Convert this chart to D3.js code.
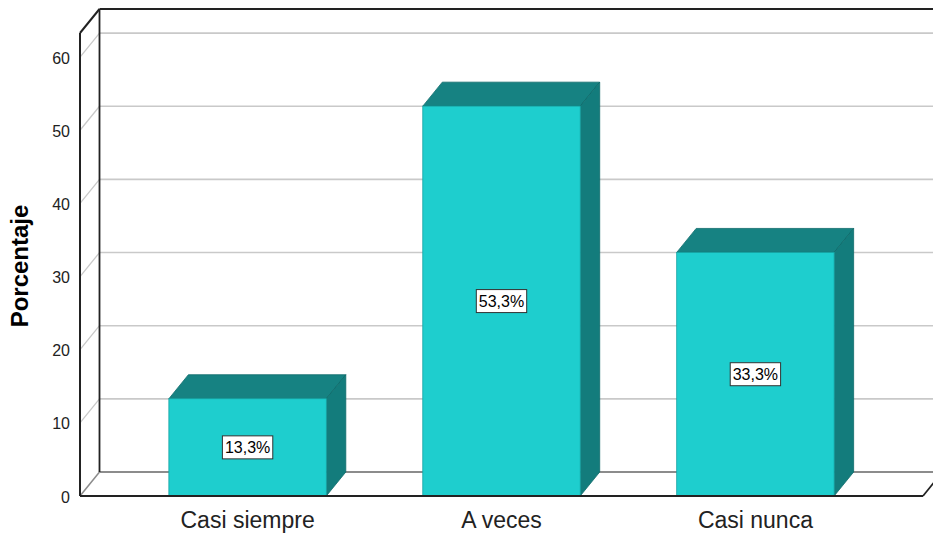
<!DOCTYPE html>
<html>
<head>
<meta charset="utf-8">
<script src="https://cdn.jsdelivr.net/npm/d3@7"></script>
<style>
  html, body { margin: 0; padding: 0; background: #ffffff; }
  svg { display: block; font-family: "Liberation Sans", Arial, sans-serif; }
</style>
</head>
<body>
<svg id="chart" width="933" height="533"></svg>
<script>
// Data
const categories = ["Casi siempre", "A veces", "Casi nunca"];
const percentages = [13.3, 53.3, 33.3];
const valueLabels = ["13,3%", "53,3%", "33,3%"];
const yTicks = [0, 10, 20, 30, 40, 50, 60];
const yAxisTitle = "Porcentaje";

const FONT = "'Liberation Sans', Arial, sans-serif";
const svg = d3.select("#chart");

// Front plane geometry and the 3D depth offset
const yMax = 63.3;
const y = d3.scaleLinear().domain([0, yMax]).range([496, 33]);
const x = d3.scaleBand().domain(categories).range([80, 923])
  .paddingInner(0.38).paddingOuter(0.35);
const dx = 19.5, dy = -24;
const x0 = 80, x1 = 923, xEnd = 933;

const frame = svg.append("g");

// Gridlines on the back wall and the left side wall
yTicks.filter(t => t > 0).forEach(t => {
  frame.append("line")
    .attr("x1", x0 + dx).attr("x2", xEnd)
    .attr("y1", y(t) + dy).attr("y2", y(t) + dy)
    .attr("stroke", "#c9c9c9").attr("stroke-width", 1.6);
  frame.append("line")
    .attr("x1", x0).attr("y1", y(t))
    .attr("x2", x0 + dx).attr("y2", y(t) + dy)
    .attr("stroke", "#c9c9c9").attr("stroke-width", 1.3);
});

// Floor: back edge and left diagonal
frame.append("line")
  .attr("x1", x0 + dx).attr("x2", xEnd)
  .attr("y1", y(0) + dy).attr("y2", y(0) + dy)
  .attr("stroke", "#8c8c8c").attr("stroke-width", 2);
frame.append("line")
  .attr("x1", x0).attr("y1", y(0))
  .attr("x2", x0 + dx).attr("y2", y(0) + dy)
  .attr("stroke", "#8c8c8c").attr("stroke-width", 1.5);

// Back wall left edge and top edge
frame.append("line")
  .attr("x1", x0 + dx).attr("x2", x0 + dx)
  .attr("y1", y(yMax) + dy).attr("y2", y(0) + dy)
  .attr("stroke", "#222").attr("stroke-width", 1.8);
frame.append("line")
  .attr("x1", x0 + dx).attr("x2", xEnd)
  .attr("y1", y(yMax) + dy).attr("y2", y(yMax) + dy)
  .attr("stroke", "#222").attr("stroke-width", 2);

// Bars
const frontFill = "#1ecece", topFill = "#168282", sideFill = "#137c7c", edgeColor = "#0e6b6b";
const bars = svg.append("g").selectAll("g").data(categories).join("g");
bars.each(function (c, i) {
  const g = d3.select(this);
  const bx = x(c), bw = x.bandwidth();
  const yt = y(percentages[i]), yb = y(0);
  // top face
  g.append("polygon")
    .attr("points", [[bx, yt], [bx + dx, yt + dy], [bx + bw + dx, yt + dy], [bx + bw, yt]].join(" "))
    .attr("fill", topFill).attr("stroke", edgeColor).attr("stroke-width", 0.8);
  // right side face
  g.append("polygon")
    .attr("points", [[bx + bw, yt], [bx + bw + dx, yt + dy], [bx + bw + dx, yb + dy], [bx + bw, yb]].join(" "))
    .attr("fill", sideFill).attr("stroke", edgeColor).attr("stroke-width", 0.8);
  // front face
  g.append("rect")
    .attr("x", bx).attr("y", yt).attr("width", bw).attr("height", yb - yt)
    .attr("fill", frontFill).attr("stroke", "#15a3a3").attr("stroke-width", 0.8);
});

// Front axis lines drawn over the bar bases
svg.append("line")
  .attr("x1", x0).attr("x2", x0).attr("y1", y(yMax)).attr("y2", y(0))
  .attr("stroke", "#222").attr("stroke-width", 2);
svg.append("line")
  .attr("x1", x0).attr("y1", y(yMax))
  .attr("x2", x0 + dx).attr("y2", y(yMax) + dy)
  .attr("stroke", "#222").attr("stroke-width", 2);
svg.append("line")
  .attr("x1", x0).attr("x2", x1).attr("y1", y(0)).attr("y2", y(0))
  .attr("stroke", "#222").attr("stroke-width", 2);
svg.append("line")
  .attr("x1", x1).attr("y1", y(0))
  .attr("x2", x1 + dx).attr("y2", y(0) + dy)
  .attr("stroke", "#222").attr("stroke-width", 1.8);

// Value labels in boxes, centred on each bar's front face
bars.each(function (c, i) {
  const g = d3.select(this);
  const cx = x(c) + x.bandwidth() / 2;
  const cy = (y(percentages[i]) + y(0)) / 2;
  const t = g.append("text")
    .attr("x", cx).attr("y", cy)
    .attr("text-anchor", "middle").attr("dominant-baseline", "central")
    .attr("font-family", FONT).attr("font-size", 16).attr("fill", "#000")
    .text(valueLabels[i]);
  const w = t.node().getComputedTextLength() + 5;
  g.insert("rect", "text")
    .attr("x", cx - w / 2).attr("y", cy - 11.5)
    .attr("width", w).attr("height", 23)
    .attr("fill", "#fff").attr("stroke", "#333").attr("stroke-width", 1);
});

// Y axis tick labels (no tick marks)
const yAxis = d3.axisLeft(y).tickValues(yTicks).tickSize(0).tickPadding(10).tickFormat(d3.format("d"));
const ya = svg.append("g").attr("transform", `translate(${x0},1)`).call(yAxis);
ya.select(".domain").remove();
ya.selectAll("text").attr("font-size", 16).attr("fill", "#222").attr("font-family", FONT);

// X axis category labels
const xAxis = d3.axisBottom(x).tickSize(0).tickPadding(16);
const xa = svg.append("g").attr("transform", `translate(0,${y(0)})`).call(xAxis);
xa.select(".domain").remove();
xa.selectAll("text").attr("font-size", 23).attr("fill", "#222").attr("font-family", FONT);

// Y axis title
svg.append("text")
  .attr("transform", "translate(28,266) rotate(-90)")
  .attr("text-anchor", "middle")
  .attr("font-family", FONT)
  .attr("font-size", 24).attr("font-weight", "bold").attr("fill", "#000")
  .text(yAxisTitle);
</script>
</body>
</html>
